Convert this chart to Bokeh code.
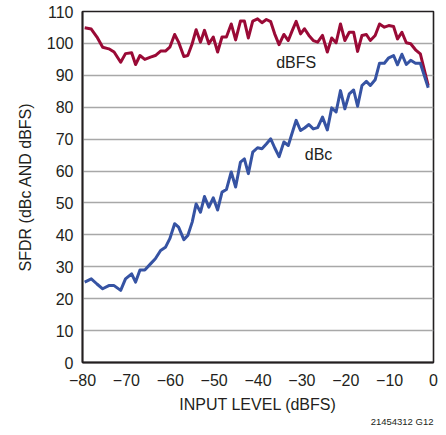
from bokeh.plotting import figure
from bokeh.models import Range1d, FixedTicker, Label, Title
from bokeh.embed import file_html
from bokeh.resources import INLINE

input_level = [-79.5, -78.0, -76.7, -75.4, -74.0, -72.8, -71.3, -70.2, -68.8, -67.9,
               -66.9, -65.8, -64.5, -63.4, -62.2, -61.1, -60.1, -59.0, -58.1, -56.9,
               -56.0, -55.0, -54.1, -53.1, -52.2, -51.2, -50.2, -49.2, -48.2, -47.2,
               -46.1, -45.1, -44.0, -43.1, -42.2, -41.2, -40.1, -39.1, -38.1, -37.1,
               -36.2, -35.2, -34.1, -33.1, -32.2, -31.3, -30.3, -29.4, -28.4, -27.4,
               -26.4, -25.3, -24.2, -23.2, -22.2, -21.2, -20.2, -19.2, -18.2, -17.3,
               -16.3, -15.3, -14.4, -13.3, -12.3, -11.2, -10.2, -9.1, -8.2, -7.2,
               -6.2, -5.2, -4.1, -3.0, -1.2]

sfdr_dbfs = [104.9, 104.5, 102.0, 98.8, 98.3, 97.3, 94.1, 96.8, 97.1, 93.4,
             96.2, 95.0, 95.7, 96.2, 97.6, 97.6, 98.8, 102.8, 100.4, 95.9,
             96.2, 99.9, 104.3, 100.4, 104.1, 99.9, 102.0, 97.3, 102.0, 102.0,
             106.1, 101.1, 107.0, 107.0, 101.7, 107.0, 107.7, 106.5, 107.5, 106.8,
             103.0, 99.6, 102.8, 100.9, 104.0, 106.9, 103.0, 104.6, 102.5, 100.9,
             100.4, 102.5, 97.3, 101.7, 100.2, 106.1, 100.9, 103.5, 103.5, 97.5,
             102.5, 102.8, 100.9, 102.5, 106.1, 105.1, 105.6, 105.3, 101.4, 103.5,
             100.2, 99.9, 98.0, 96.7, 86.8]

sfdr_dbc = [25.2, 26.2, 24.6, 23.1, 24.1, 24.1, 22.6, 26.2, 27.8, 25.2,
            29.0, 29.0, 30.9, 32.5, 35.1, 36.1, 38.8, 43.5, 42.4, 38.5,
            39.8, 44.0, 49.7, 47.1, 52.0, 48.7, 51.6, 47.8, 53.4, 54.2,
            59.7, 55.0, 62.8, 63.8, 59.2, 65.9, 67.3, 67.0, 68.5, 70.1,
            67.3, 64.5, 69.1, 68.0, 72.0, 75.9, 72.7, 73.5, 74.6, 73.2,
            73.6, 76.9, 72.9, 79.8, 78.5, 85.2, 79.5, 84.2, 85.4, 80.3,
            86.8, 88.1, 86.8, 88.6, 93.8, 93.8, 95.5, 96.2, 93.3, 96.6,
            93.4, 94.7, 93.8, 93.8, 86.1]

x_ticks = [-80, -70, -60, -50, -40, -30, -20, -10, 0]
x_tick_labels = ["\u221280", "\u221270", "\u221260", "\u221250", "\u221240",
                 "\u221230", "\u221220", "\u221210", "0"]
y_ticks = [0, 10, 20, 30, 40, 50, 60, 70, 80, 90, 100, 110]

FONT = "'Liberation Sans Narrow', 'Liberation Sans', sans-serif"
TXT = "#231f20"

p = figure(width=438, height=432, output_backend="svg", toolbar_location=None,
           x_range=Range1d(-80, 0), y_range=Range1d(0, 110),
           min_border_left=82, min_border_right=5, min_border_top=11,
           min_border_bottom=70)
p.background_fill_color = "white"
p.border_fill_color = "white"
p.outline_line_color = "#231f20"
p.outline_line_width = 1.6

p.xgrid.visible = False
p.ygrid.ticker = FixedTicker(ticks=y_ticks)
p.ygrid.grid_line_color = "#a8a8a8"
p.ygrid.grid_line_width = 1.4

p.xaxis.ticker = FixedTicker(ticks=x_ticks)
p.xaxis.major_label_overrides = {t: l for t, l in zip(x_ticks, x_tick_labels)}
p.yaxis.ticker = FixedTicker(ticks=y_ticks)

for ax in (p.xaxis[0], p.yaxis[0]):
    ax.axis_line_color = "#231f20"
    ax.axis_line_width = 1.8
    ax.major_tick_line_color = None
    ax.minor_tick_line_color = None
    ax.major_tick_out = 0
    ax.major_tick_in = 0
    ax.major_label_text_font = FONT
    ax.major_label_text_font_size = "16px"
    ax.major_label_text_color = TXT
    ax.axis_label_text_font = FONT
    ax.axis_label_text_font_size = "16px"
    ax.axis_label_text_font_style = "normal"
    ax.axis_label_text_color = TXT

p.xaxis.axis_label = "INPUT LEVEL (dBFS)"
p.yaxis.axis_label = "SFDR (dBc AND dBFS)"
p.xaxis.major_label_standoff = 11
p.xaxis.axis_label_standoff = 7
p.yaxis.major_label_standoff = 9
p.yaxis.axis_label_standoff = 10

p.line(input_level, sfdr_dbfs, line_color="#9a0a36", line_width=3, line_join="round")
p.line(input_level, sfdr_dbc, line_color="#3653a3", line_width=3, line_join="round")

p.add_layout(Label(x=-31.3, y=94, text="dBFS", text_align="center", text_baseline="middle",
                   text_font=FONT, text_font_size="16px", text_color=TXT))
p.add_layout(Label(x=-26.2, y=65.2, text="dBc", text_align="center", text_baseline="middle",
                   text_font=FONT, text_font_size="16px", text_color=TXT))

p.add_layout(Title(text="21454312 G12", align="right", text_font=FONT,
                   text_font_size="9.5px", text_font_style="normal", text_color=TXT,
                   standoff=-3), "below")

open("out.html", "w").write(file_html(p, INLINE))
